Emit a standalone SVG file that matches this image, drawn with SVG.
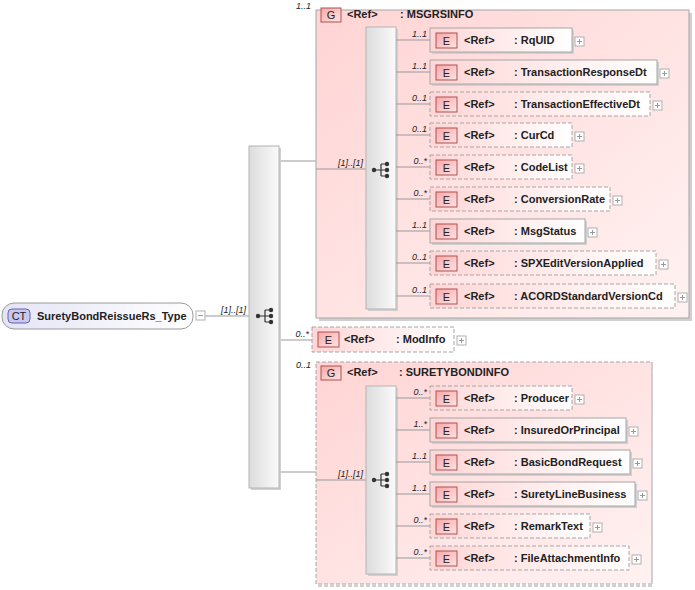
<svg xmlns="http://www.w3.org/2000/svg" width="695" height="590" viewBox="0 0 695 590">
<defs>
<linearGradient id="gEl" x1="0" y1="0" x2="1" y2="0"><stop offset="0" stop-color="#ffd6d6"/><stop offset="1" stop-color="#ffffff"/></linearGradient>
<linearGradient id="gGrp" x1="0" y1="0" x2="1" y2="1"><stop offset="0" stop-color="#ffd4d4"/><stop offset="1" stop-color="#fff2f2"/></linearGradient>
<linearGradient id="gComp" x1="0" y1="0" x2="1" y2="0"><stop offset="0" stop-color="#dcdcdc"/><stop offset="1" stop-color="#fafafa"/></linearGradient>
<linearGradient id="gBadge" x1="0" y1="0" x2="1" y2="1"><stop offset="0" stop-color="#f7a8a8"/><stop offset="1" stop-color="#ffe4e4"/></linearGradient>
<linearGradient id="gCT" x1="0" y1="0" x2="1" y2="0"><stop offset="0" stop-color="#e4e4f6"/><stop offset="1" stop-color="#ffffff"/></linearGradient>
<g id="seq">
<circle cx="-7" cy="0" r="2.2" fill="#333"/>
<path d="M-7 0H0M0 -6V6M0 -6H6M0 0H6M0 6H6" stroke="#333" stroke-width="1.2" fill="none"/>
<circle cx="6" cy="-6" r="2.2" fill="#333"/><circle cx="6" cy="0" r="2.2" fill="#333"/><circle cx="6" cy="6" r="2.2" fill="#333"/>
</g>
<g id="plus"><rect x="0" y="0" width="9" height="9" fill="#fff" stroke="#b0b0b0"/><path d="M2 4.5H7M4.5 2V7" stroke="#999" stroke-width="1"/></g>
</defs>
<style>
text{font-family:"Liberation Sans",Arial,sans-serif;fill:#222}
.t{font-size:11px;font-weight:bold}
.m{font-size:9px;font-style:italic}
.b{font-size:11px}
.el{fill:url(#gEl);stroke:#a6a6a6;stroke-width:1}
.dash{stroke-dasharray:4,2}
.sh{fill:#d0d0d0}
.badge{fill:url(#gBadge);stroke:#b05050;stroke-width:1}
.comp{fill:url(#gComp);stroke:#b4b4b4;stroke-width:1}
.ln{stroke:#999;stroke-width:1;fill:none}
</style>

<g id="connectors">
<path class="ln" d="M205 316H249"/>
<path class="ln" d="M279 161H316"/>
<path class="ln" d="M279 340H312"/>
<path class="ln" d="M279 472H316"/>
</g>

<g id="root">
<rect x="2" y="303" width="191" height="26" rx="12" fill="url(#gCT)" stroke="#9a9a9a"/>
<rect x="8" y="309" width="22" height="14" rx="4" fill="#c8c8f0" stroke="#6464a8"/>
<text x="19" y="320" class="b" text-anchor="middle">CT</text>
<text x="37" y="320" class="t">SuretyBondReissueRs_Type</text>
<rect x="196" y="311" width="9" height="9" fill="#fff" stroke="#b0b0b0"/>
<path d="M198 315.5H203" stroke="#999"/>
<text x="246" y="313" class="m" text-anchor="end">[1]..[1]</text>
</g>

<g id="seqMain">
<rect x="251" y="148" width="30" height="342" class="sh"/>
<rect x="249" y="146" width="30" height="342" class="comp"/>
<use href="#seq" x="265" y="316"/>
</g>

<g id="MSGRSINFO">
<rect x="319" y="13" width="373" height="308" class="sh"/>
<rect x="316" y="10" width="373" height="308" fill="url(#gGrp)" stroke="#a6a6a6"/>
<text x="311" y="9" class="m" text-anchor="end">1..1</text>
<rect x="321" y="8" width="20" height="14" class="badge"/>
<text x="331" y="19" class="b" text-anchor="middle">G</text>
<text x="347" y="18" class="t">&lt;Ref&gt;</text>
<text x="400" y="18" class="t">: MSGRSINFO</text>
<path class="ln" d="M316 169H366"/>
<text x="363" y="166" class="m" text-anchor="end">[1]..[1]</text>
<rect x="368" y="29" width="30" height="282" class="sh"/>
<rect x="366" y="27" width="30" height="282" class="comp"/>
<use href="#seq" x="381" y="170"/>
<path class="ln" d="M396 40H430M396 72H430M396 104H430M396 135H430M396 167H430M396 199H430M396 231H430M396 263H430M396 296H430"/>
</g>

<g id="RqUID">
<text x="427" y="37" class="m" text-anchor="end">1..1</text>
<rect x="432" y="30" width="142" height="24" class="sh"/>
<rect x="430" y="28" width="142" height="24" class="el"/>
<rect x="436" y="33" width="21" height="15" class="badge"/><text x="446.5" y="45" class="b" text-anchor="middle">E</text>
<text x="464" y="44" class="t">&lt;Ref&gt;</text><text x="514" y="44" class="t">: RqUID</text>
<use href="#plus" x="575" y="37"/>
</g>
<g id="TransactionResponseDt">
<text x="427" y="69" class="m" text-anchor="end">1..1</text>
<rect x="432" y="62" width="227" height="24" class="sh"/>
<rect x="430" y="60" width="227" height="24" class="el"/>
<rect x="436" y="65" width="21" height="15" class="badge"/><text x="446.5" y="77" class="b" text-anchor="middle">E</text>
<text x="464" y="76" class="t">&lt;Ref&gt;</text><text x="514" y="76" class="t">: TransactionResponseDt</text>
<use href="#plus" x="660" y="69"/>
</g>
<g id="TransactionEffectiveDt">
<text x="427" y="101" class="m" text-anchor="end">0..1</text>
<rect x="430" y="92" width="220" height="24" class="el dash"/>
<rect x="436" y="97" width="21" height="15" class="badge"/><text x="446.5" y="109" class="b" text-anchor="middle">E</text>
<text x="464" y="108" class="t">&lt;Ref&gt;</text><text x="514" y="108" class="t">: TransactionEffectiveDt</text>
<use href="#plus" x="653" y="101"/>
</g>
<g id="CurCd">
<text x="427" y="132" class="m" text-anchor="end">0..1</text>
<rect x="430" y="123" width="142" height="24" class="el dash"/>
<rect x="436" y="128" width="21" height="15" class="badge"/><text x="446.5" y="140" class="b" text-anchor="middle">E</text>
<text x="464" y="139" class="t">&lt;Ref&gt;</text><text x="514" y="139" class="t">: CurCd</text>
<use href="#plus" x="575" y="132"/>
</g>
<g id="CodeList">
<text x="427" y="164" class="m" text-anchor="end">0..*</text>
<rect x="430" y="155" width="142" height="24" class="el dash"/>
<rect x="436" y="160" width="21" height="15" class="badge"/><text x="446.5" y="172" class="b" text-anchor="middle">E</text>
<text x="464" y="171" class="t">&lt;Ref&gt;</text><text x="514" y="171" class="t">: CodeList</text>
<use href="#plus" x="575" y="164"/>
</g>
<g id="ConversionRate">
<text x="427" y="196" class="m" text-anchor="end">0..*</text>
<rect x="430" y="187" width="180" height="24" class="el dash"/>
<rect x="436" y="192" width="21" height="15" class="badge"/><text x="446.5" y="204" class="b" text-anchor="middle">E</text>
<text x="464" y="203" class="t">&lt;Ref&gt;</text><text x="514" y="203" class="t">: ConversionRate</text>
<use href="#plus" x="613" y="196"/>
</g>
<g id="MsgStatus">
<text x="427" y="228" class="m" text-anchor="end">1..1</text>
<rect x="432" y="221" width="155" height="24" class="sh"/>
<rect x="430" y="219" width="155" height="24" class="el"/>
<rect x="436" y="224" width="21" height="15" class="badge"/><text x="446.5" y="236" class="b" text-anchor="middle">E</text>
<text x="464" y="235" class="t">&lt;Ref&gt;</text><text x="514" y="235" class="t">: MsgStatus</text>
<use href="#plus" x="588" y="228"/>
</g>
<g id="SPXEditVersionApplied">
<text x="427" y="260" class="m" text-anchor="end">0..1</text>
<rect x="430" y="251" width="226" height="24" class="el dash"/>
<rect x="436" y="256" width="21" height="15" class="badge"/><text x="446.5" y="268" class="b" text-anchor="middle">E</text>
<text x="464" y="267" class="t">&lt;Ref&gt;</text><text x="514" y="267" class="t">: SPXEditVersionApplied</text>
<use href="#plus" x="659" y="260"/>
</g>
<g id="ACORDStandardVersionCd">
<text x="427" y="293" class="m" text-anchor="end">0..1</text>
<rect x="430" y="284" width="245" height="24" class="el dash"/>
<rect x="436" y="289" width="21" height="15" class="badge"/><text x="446.5" y="301" class="b" text-anchor="middle">E</text>
<text x="464" y="300" class="t">&lt;Ref&gt;</text><text x="514" y="300" class="t">: ACORDStandardVersionCd</text>
<use href="#plus" x="678" y="293"/>
</g>

<g id="ModInfo">
<text x="309" y="337" class="m" text-anchor="end">0..*</text>
<rect x="312" y="327" width="142" height="25" class="el dash"/>
<rect x="318" y="332" width="21" height="15" class="badge"/><text x="328.5" y="344" class="b" text-anchor="middle">E</text>
<text x="344" y="343" class="t">&lt;Ref&gt;</text><text x="396" y="343" class="t">: ModInfo</text>
<use href="#plus" x="457" y="336"/>
</g>

<g id="SURETYBONDINFO">
<rect x="316" y="362" width="336" height="222" fill="url(#gGrp)" stroke="#a6a6a6" stroke-dasharray="4,2"/>
<path d="M652 364V586H318" stroke="#d0d0d0" stroke-width="2" fill="none" stroke-dasharray="4,2"/>
<text x="311" y="368" class="m" text-anchor="end">0..1</text>
<rect x="321" y="366" width="20" height="14" class="badge"/>
<text x="331" y="377" class="b" text-anchor="middle">G</text>
<text x="347" y="376" class="t">&lt;Ref&gt;</text>
<text x="399" y="376" class="t">: SURETYBONDINFO</text>
<path class="ln" d="M316 480H366"/>
<text x="363" y="477" class="m" text-anchor="end">[1]..[1]</text>
<rect x="368" y="388" width="30" height="188" class="sh"/>
<rect x="366" y="386" width="30" height="188" class="comp"/>
<use href="#seq" x="381" y="480"/>
<path class="ln" d="M396 398H430M396 430H430M396 462H430M396 494H430M396 526H430M396 558H430"/>
</g>

<g id="Producer">
<text x="427" y="395" class="m" text-anchor="end">0..*</text>
<rect x="430" y="386" width="142" height="24" class="el dash"/>
<rect x="436" y="391" width="21" height="15" class="badge"/><text x="446.5" y="403" class="b" text-anchor="middle">E</text>
<text x="464" y="402" class="t">&lt;Ref&gt;</text><text x="514" y="402" class="t">: Producer</text>
<use href="#plus" x="575" y="395"/>
</g>
<g id="InsuredOrPrincipal">
<text x="427" y="427" class="m" text-anchor="end">1..*</text>
<rect x="432" y="420" width="196" height="24" class="sh"/>
<rect x="430" y="418" width="196" height="24" class="el"/>
<rect x="436" y="423" width="21" height="15" class="badge"/><text x="446.5" y="435" class="b" text-anchor="middle">E</text>
<text x="464" y="434" class="t">&lt;Ref&gt;</text><text x="514" y="434" class="t">: InsuredOrPrincipal</text>
<use href="#plus" x="629" y="427"/>
</g>
<g id="BasicBondRequest">
<text x="427" y="459" class="m" text-anchor="end">1..1</text>
<rect x="432" y="452" width="200" height="24" class="sh"/>
<rect x="430" y="450" width="200" height="24" class="el"/>
<rect x="436" y="455" width="21" height="15" class="badge"/><text x="446.5" y="467" class="b" text-anchor="middle">E</text>
<text x="464" y="466" class="t">&lt;Ref&gt;</text><text x="514" y="466" class="t">: BasicBondRequest</text>
<use href="#plus" x="633" y="459"/>
</g>
<g id="SuretyLineBusiness">
<text x="427" y="491" class="m" text-anchor="end">1..1</text>
<rect x="432" y="484" width="205" height="24" class="sh"/>
<rect x="430" y="482" width="205" height="24" class="el"/>
<rect x="436" y="487" width="21" height="15" class="badge"/><text x="446.5" y="499" class="b" text-anchor="middle">E</text>
<text x="464" y="498" class="t">&lt;Ref&gt;</text><text x="514" y="498" class="t">: SuretyLineBusiness</text>
<use href="#plus" x="638" y="491"/>
</g>
<g id="RemarkText">
<text x="427" y="523" class="m" text-anchor="end">0..*</text>
<rect x="430" y="514" width="160" height="24" class="el dash"/>
<rect x="436" y="519" width="21" height="15" class="badge"/><text x="446.5" y="531" class="b" text-anchor="middle">E</text>
<text x="464" y="530" class="t">&lt;Ref&gt;</text><text x="514" y="530" class="t">: RemarkText</text>
<use href="#plus" x="593" y="523"/>
</g>
<g id="FileAttachmentInfo">
<text x="427" y="555" class="m" text-anchor="end">0..*</text>
<rect x="430" y="546" width="199" height="24" class="el dash"/>
<rect x="436" y="551" width="21" height="15" class="badge"/><text x="446.5" y="563" class="b" text-anchor="middle">E</text>
<text x="464" y="562" class="t">&lt;Ref&gt;</text><text x="514" y="562" class="t">: FileAttachmentInfo</text>
<use href="#plus" x="632" y="555"/>
</g>
</svg>
